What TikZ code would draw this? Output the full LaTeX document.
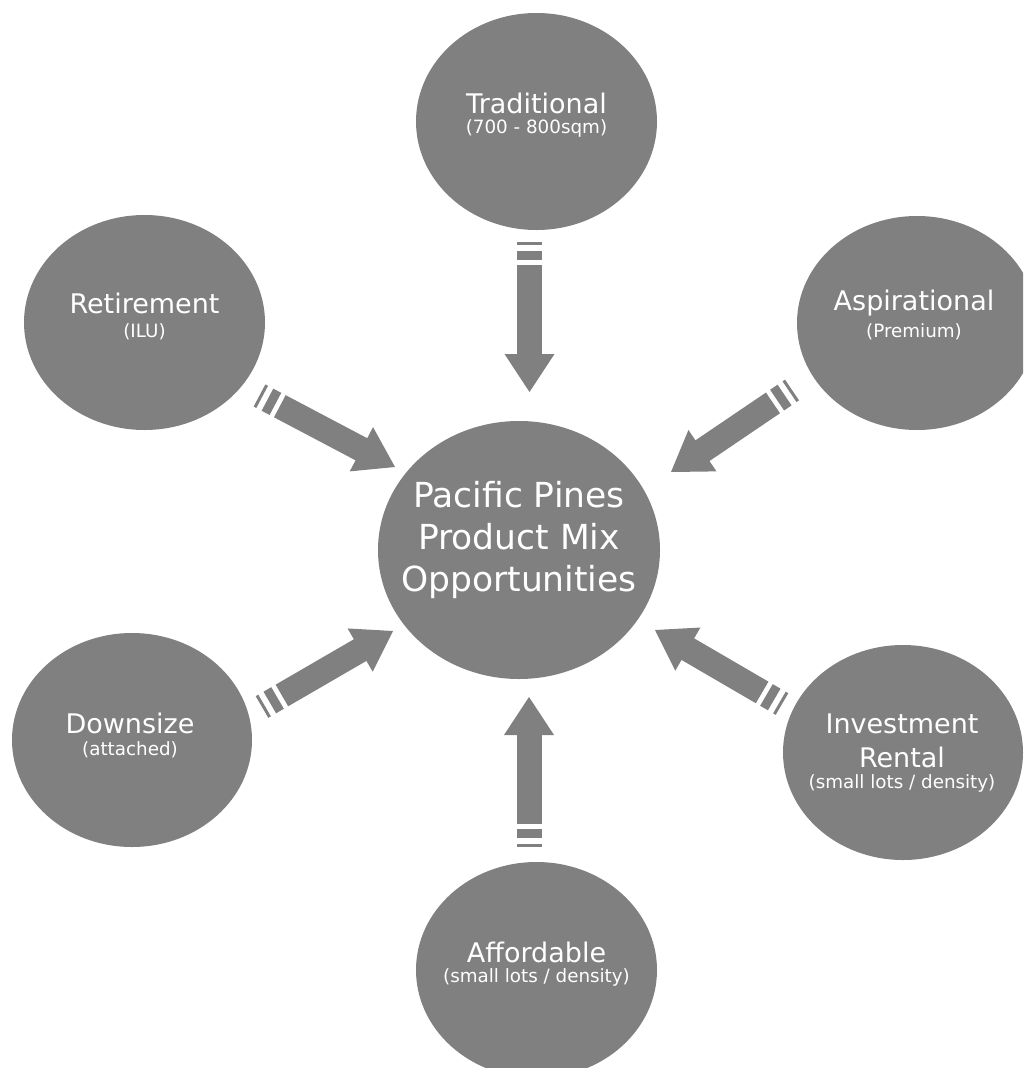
\documentclass[tikz,border=0pt]{standalone}
\usepackage{fontspec}
\setmainfont{DejaVu Sans}
\usetikzlibrary{calc,shapes.geometric}
\definecolor{bubblegrey}{RGB}{128,128,128}
\tikzset{
  bubble/.style={ellipse, fill=bubblegrey, draw=none, inner sep=0pt},
  bigtext/.style={text=white, font=\fontsize{34.5}{42}\selectfont, align=center, inner sep=0pt},
  maintext/.style={text=white, font=\fontsize{27}{33}\selectfont, inner sep=0pt},
  subtext/.style={text=white, font=\fontsize{18.3}{22}\selectfont, inner sep=0pt},
  band/.style={draw=bubblegrey, line width=25pt},
  headfill/.style={fill=bubblegrey, draw=none},
}
\newcommand{\fatarrow}[2]{%
  \draw[band] (#1) -- ($(#1)!3pt!(#2)$);
  \draw[band] ($(#1)!9pt!(#2)$) -- ($(#1)!18pt!(#2)$);
  \coordinate (#1-hb) at ($(#2)!38pt!(#1)$);
  \draw[band] ($(#1)!23pt!(#2)$) -- ($(#2)!37pt!(#1)$);
  \path[headfill] (#2) -- ($(#1-hb)!25pt!90:(#2)$) -- ($(#1-hb)!25pt!-90:(#2)$) -- cycle;
}
\begin{document}
\begin{tikzpicture}[x=1pt,y=-1pt]
\useasboundingbox (0,0) rectangle (1023,1068);
\fill[white] (0,0) rectangle (1023,1068);
\clip (0,0) rectangle (1023,1068);

% bubbles
\node[bubble, minimum width=282pt, minimum height=258pt] (hub) at (519,550) {};
\node[bubble, minimum width=241pt, minimum height=217pt] (trad) at (536.5,121.5) {};
\node[bubble, minimum width=241pt, minimum height=215pt] (ret) at (144.5,322.5) {};
\node[bubble, minimum width=240pt, minimum height=214pt] (asp) at (917,323) {};
\node[bubble, minimum width=240pt, minimum height=214pt] (down) at (132,740) {};
\node[bubble, minimum width=240pt, minimum height=215pt] (inv) at (903,752.5) {};
\node[bubble, minimum width=241pt, minimum height=216pt] (aff) at (536.5,970) {};

% texts
\node[bigtext] (hub-t) at (519,540) {Pacific Pines\\Product Mix\\Opportunities};
\node[maintext] (trad-t) at (536.5,103) {Traditional};
\node[subtext] (trad-s) at (536.5,128) {(700 - 800sqm)};
\node[maintext] (ret-t) at (144.5,303) {Retirement};
\node[subtext] (ret-s) at (144.5,332) {(ILU)};
\node[maintext] (asp-t) at (914,303) {Aspirational};
\node[subtext] (asp-s) at (914,332) {(Premium)};
\node[maintext] (down-t) at (130,723) {Downsize};
\node[subtext] (down-s) at (130,750) {(attached)};
\node[maintext] (inv-t) at (902,724) {Investment};
\node[maintext] (inv-r) at (902,757) {Rental};
\node[subtext] (inv-s) at (902,783) {(small lots / density)};
\node[maintext] (aff-t) at (536.5,952) {Affordable};
\node[subtext] (aff-s) at (536.5,977) {(small lots / density)};

% arrow end points
\coordinate (t1) at (529.5,242); \coordinate (h1) at (529.5,392);
\coordinate (t2) at (529,847);   \coordinate (h2) at (529,697);
\coordinate (t3) at (259.5,395.5); \coordinate (h3) at (395,467);
\coordinate (t4) at (792,390);   \coordinate (h4) at (671,472);
\coordinate (t5) at (262,707);   \coordinate (h5) at (393,631);
\coordinate (t6) at (782,704);   \coordinate (h6) at (655,630);

\fatarrow{t1}{h1}
\fatarrow{t2}{h2}
\fatarrow{t3}{h3}
\fatarrow{t4}{h4}
\fatarrow{t5}{h5}
\fatarrow{t6}{h6}
\end{tikzpicture}
\end{document}
